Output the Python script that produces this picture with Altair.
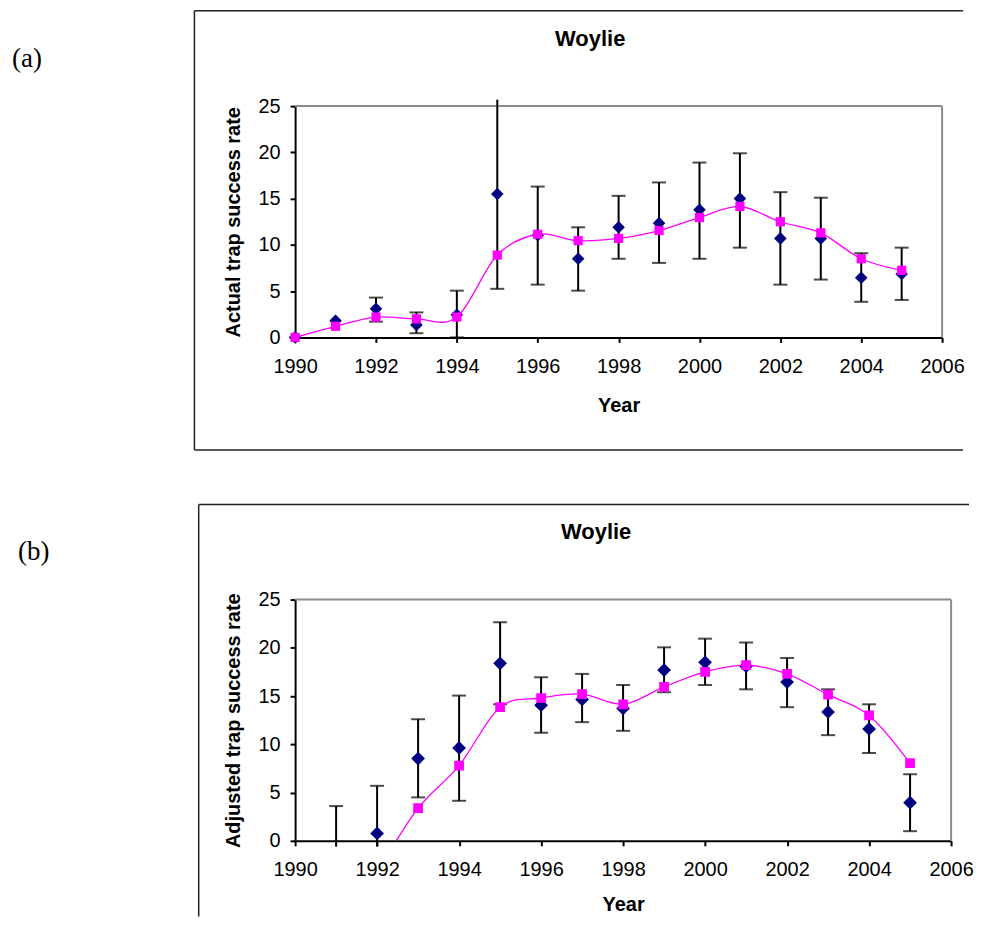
import altair as alt
import pandas as pd

# ---------------- data ----------------
years = list(range(1990, 2006))

# panel (a) actual trap success rate
a_actual = [0.0, 1.8, 3.1, 1.35, 2.45, 15.5, 11.05, 8.5, 11.9, 12.35, 13.8, 15.0, 10.7, 10.7, 6.45, 6.85]
a_lo = [None, None, 1.7, 0.45, 0.0, 5.25, 5.7, 5.05, 8.5, 8.05, 8.5, 9.7, 5.7, 6.25, 3.85, 4.05]
a_hi = [None, None, 4.3, 2.7, 5.05, 25.7, 16.3, 11.9, 15.3, 16.75, 18.9, 19.9, 15.7, 15.1, 9.1, 9.7]
a_fit = [0.0, 1.2, 2.2, 2.0, 2.2, 8.9, 11.15, 10.45, 10.7, 11.55, 12.95, 14.15, 12.5, 11.3, 8.5, 7.25]

# panel (b) adjusted trap success rate (values below the axis are only partly visible)
b_actual = [None, -1.4, 0.76, 8.52, 9.62, 18.4, 14.05, 14.65, 13.72, 17.7, 18.5, 18.1, 16.45, 13.35, 11.6, 3.95]
b_lo = [None, -0.6, -0.6, 4.5, 4.15, 14.15, 11.2, 12.3, 11.4, 15.4, 16.15, 15.7, 13.85, 10.95, 9.1, 1.0]
b_hi = [None, 3.6, 5.7, 12.6, 15.05, 22.65, 16.95, 17.3, 16.15, 20.05, 20.95, 20.55, 18.95, 15.7, 14.15, 6.9]
b_fit = [None, -10.0, -3.2, 3.38, 7.8, 13.85, 14.8, 15.2, 14.15, 15.95, 17.5, 18.2, 17.3, 15.15, 13.0, 8.05]

chart_title = "Woylie"
x_title = "Year"
a_ytitle = "Actual trap success rate"
b_ytitle = "Adjusted trap success rate"
x_ticks = list(range(1990, 2007, 2))
y_ticks = [0, 5, 10, 15, 20, 25]

NAVY = "#000080"
MAGENTA = "#FF00FF"
FONT = "Liberation Sans"


def panel(actual, lo, hi, fit, ytitle, tag, w, h, box, title_pos, tag_pos, clip, dsize, ssize, xtp):
    df = pd.DataFrame({"year": years, "actual": actual, "lo": lo, "hi": hi, "fit": fit})
    one = pd.DataFrame({"title": [chart_title], "tag": [tag]})

    xenc = alt.X("year:Q",
                 scale=alt.Scale(domain=[1990, 2006], nice=False, zero=False),
                 axis=alt.Axis(values=x_ticks, format="d", title=x_title, grid=False,
                               labelFlush=False, titlePadding=xtp))

    def yenc(field):
        return alt.Y(field + ":Q",
                     scale=alt.Scale(domain=[0, 25], nice=False, zero=False),
                     axis=alt.Axis(values=y_ticks, title=ytitle, grid=False))

    bl, bt, bb, br = box
    deco = alt.Chart(one)
    outer_top = deco.mark_rule(color="#222222", strokeWidth=1.5).encode(
        x=alt.value(bl), x2=alt.value(br), y=alt.value(bt))
    outer_left = deco.mark_rule(color="#222222", strokeWidth=1.5).encode(
        x=alt.value(bl), y=alt.value(bt), y2=alt.value(bb))
    frame_top = deco.mark_rule(color="#8c8c8c", strokeWidth=2).encode(
        x=alt.value(0), x2=alt.value(w), y=alt.value(0))
    frame_right = deco.mark_rule(color="#8c8c8c", strokeWidth=2).encode(
        x=alt.value(w), y=alt.value(0), y2=alt.value(h))
    layers = [outer_top, outer_left]
    if tag == "(a)":
        outer_bottom = deco.mark_rule(color="#222222", strokeWidth=1.5).encode(
            x=alt.value(bl), x2=alt.value(br), y=alt.value(bb))
        layers.append(outer_bottom)
    layers += [frame_top, frame_right]

    base = alt.Chart(df)
    bars = base.transform_filter("isValid(datum.lo)").mark_rule(
        color="black", strokeWidth=2).encode(x=xenc, y=yenc("lo"), y2="hi:Q")
    caps_hi = base.transform_filter("isValid(datum.hi) && datum.hi <= 25").mark_tick(
        orient="horizontal", color="black", size=14, thickness=2).encode(x=xenc, y=yenc("hi"))
    caps_lo = base.transform_filter("isValid(datum.lo) && datum.lo >= 0").mark_tick(
        orient="horizontal", color="black", size=14, thickness=2).encode(x=xenc, y=yenc("lo"))
    diamonds = base.transform_filter("isValid(datum.actual)").mark_point(
        shape="diamond", filled=True, color=NAVY, opacity=1, size=dsize, clip=clip).encode(
        x=xenc, y=yenc("actual"))
    line = base.transform_filter("isValid(datum.fit)").mark_line(
        interpolate="cardinal", color=MAGENTA, strokeWidth=1.3, clip=clip).encode(
        x=xenc, y=yenc("fit"))
    squares = base.transform_filter("isValid(datum.fit)").mark_point(
        shape="square", filled=True, color=MAGENTA, opacity=1, size=ssize, clip=clip).encode(
        x=xenc, y=yenc("fit"))

    title_txt = deco.mark_text(font=FONT, fontSize=22, fontWeight="bold", color="black",
                               align="center", baseline="middle").encode(
        text="title:N", x=alt.value(title_pos[0]), y=alt.value(title_pos[1]))
    tag_txt = deco.mark_text(font="Liberation Serif", fontSize=27, color="black",
                             align="left", baseline="middle").encode(
        text="tag:N", x=alt.value(tag_pos[0]), y=alt.value(tag_pos[1]))

    layers += [bars, caps_hi, caps_lo, diamonds, line, squares, title_txt, tag_txt]
    return alt.layer(*layers).properties(width=w, height=h)


# plot (a): origin page (296,103.3), (b): origin page (290,597.3)
pa = panel(a_actual, a_lo, a_hi, a_fit, a_ytitle, "(a)", 649, 232,
           (-101, -95.6, 345, 670), (296, -67.6), (-284, -47.3), False, 160, 85, 19)
pb = panel(b_actual, b_lo, b_hi, b_fit, b_ytitle, "(b)", 658, 242,
           (-96.7, -95.3, 318, 676), (302, -67.3), (-278, -47.3), True, 190, 95, 15)

chart = alt.vconcat(pa, pb, spacing=52).properties(
    padding={"left": 4, "top": 0, "right": 0, "bottom": 0}
).configure_view(strokeWidth=0).configure_axis(
    domainColor="black", domainWidth=2, tickColor="black", tickWidth=2, tickSize=5,
    labelFont=FONT, labelFontSize=20, labelColor="black",
    titleFont=FONT, titleFontSize=20, titleFontWeight="bold", titleColor="black", grid=False
).configure_axisX(labelPadding=14).configure_axisY(labelPadding=10, titlePadding=15)

chart.save("out.html", embed_options={"renderer": "svg", "actions": False})
